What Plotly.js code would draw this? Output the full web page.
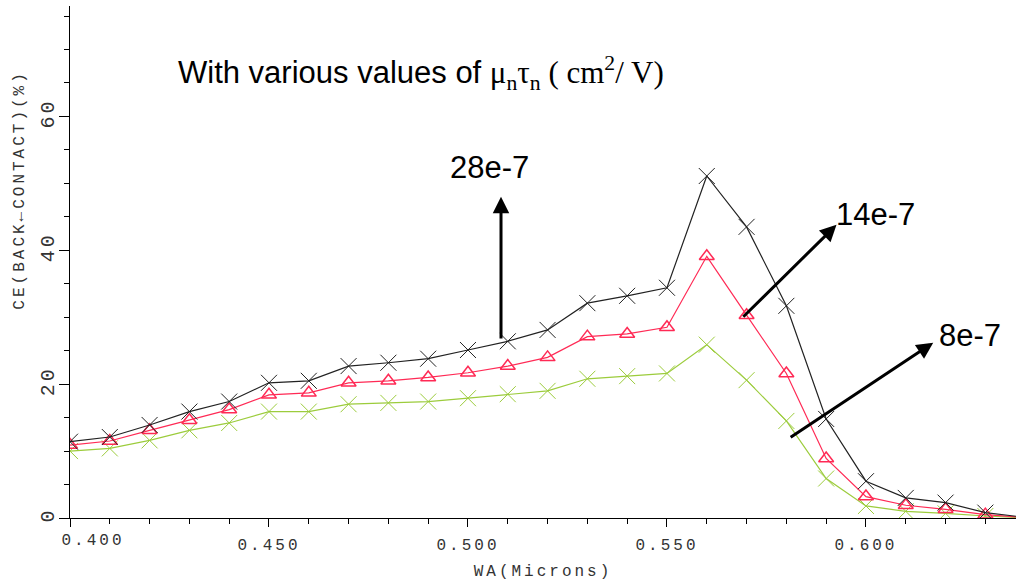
<!DOCTYPE html>
<html>
<head>
<meta charset="utf-8">
<script src="https://cdn.plot.ly/plotly-3.0.1.min.js"></script>
<style>
  html, body { margin: 0; padding: 0; background: #fff; }
  #chart { width: 1016px; height: 584px; }
  .xtick text, .ytick text, .g-xtitle text { letter-spacing: 3px; }
  .annotation[data-index="0"] text, .annotation[data-index="1"] text { letter-spacing: 3px; }
</style>
</head>
<body>
<div id="chart"></div>
<script>
// ---- data ----
const wa = [0.40, 0.41, 0.42, 0.43, 0.44, 0.45, 0.46, 0.47, 0.48, 0.49, 0.50, 0.51, 0.52,
            0.53, 0.54, 0.55, 0.56, 0.57, 0.58, 0.59, 0.60, 0.61, 0.62, 0.63, 0.64];
const ce28 = [11.4, 12.1, 13.9, 15.9, 17.4, 20.2, 20.5, 22.7, 23.2, 23.8, 25.1, 26.4, 28.1,
              32.1, 33.2, 34.4, 51.1, 43.5, 31.7, 14.8, 5.5, 3.0, 2.3, 0.8, 0.1];
const ce14 = [10.9, 11.5, 13.1, 14.6, 16.2, 18.4, 18.7, 20.2, 20.5, 21.0, 21.7, 22.7, 24.0,
              27.1, 27.5, 28.5, 39.1, 30.3, 21.6, 8.9, 3.2, 1.9, 1.3, 0.5, 0.05];
const ce8  = [10.0, 10.4, 11.6, 13.1, 14.2, 15.9, 15.9, 17.0, 17.2, 17.4, 17.9, 18.5, 19.0,
              20.8, 21.2, 21.6, 25.9, 20.6, 14.5, 5.9, 1.8, 1.0, 0.7, 0.3, 0.05];
const seriesLabels = ["28e-7", "14e-7", "8e-7"];
const xTickVals = [0.40, 0.45, 0.50, 0.55, 0.60];
const xTickText = ["0.400", "0.450", "0.500", "0.550", "0.600"];
const yTickVals = [0, 20, 40, 60];
const yTickText = ["0", "20", "40", "60"];
const xTitle = "WA(Microns)";
const yTitle = "CE(BACK←CONTACT)(%)";
const chartTitle = 'With various values of <span style="font-family:\'Liberation Serif\',\'Times New Roman\',serif">μ<sub>n</sub>τ<sub>n</sub> ( cm<sup>2</sup>/ V)</span>';

const monoFont = "'Liberation Mono', 'DejaVu Sans Mono', monospace";
const sansFont = "'Liberation Sans', Arial, sans-serif";

const traces = [
  { x: wa, y: ce8, name: seriesLabels[2], type: 'scatter', mode: 'lines+markers',
    line: { color: '#9ccc3c', width: 1.2 },
    marker: { symbol: 'x-thin-open', size: 16, line: { color: '#a8d050', width: 1 } } },
  { x: wa, y: ce14, name: seriesLabels[1], type: 'scatter', mode: 'lines+markers',
    line: { color: '#ff2a55', width: 1.2 },
    marker: { symbol: 'triangle-up-open', size: 13, color: '#ff2a55', line: { color: '#ff2a55', width: 1.5 } } },
  { x: wa, y: ce28, name: seriesLabels[0], type: 'scatter', mode: 'lines+markers',
    line: { color: '#222', width: 1.2 },
    marker: { symbol: 'x-thin-open', size: 16, line: { color: '#444', width: 1 } } }
];

const arrowCommon = { xref: 'x', yref: 'y', axref: 'x', ayref: 'y', text: '', showarrow: true,
  arrowhead: 2, arrowsize: 1.1, arrowwidth: 3, arrowcolor: '#000', standoff: 0, startstandoff: 0 };

const layout = {
  width: 1016, height: 584,
  margin: { l: 70, r: 0, t: 6, b: 66 },
  paper_bgcolor: '#fff', plot_bgcolor: '#fff',
  showlegend: false,
  xaxis: {
    range: [0.4, 0.6377], showgrid: false, zeroline: false,
    showline: true, linecolor: '#000', linewidth: 1,
    ticks: 'outside', ticklen: 8, tickcolor: '#000', tickwidth: 1,
    tickmode: 'array', tickvals: xTickVals, ticktext: ['', ...xTickText.slice(1)],
    ticklabelstandoff: 4,
    minor: { tickmode: 'linear', tick0: 0.4, dtick: 0.01, ticks: 'outside', ticklen: 5, tickcolor: '#000', showgrid: false },
    tickfont: { family: monoFont, size: 16, color: '#333' },
    title: { text: xTitle, font: { family: monoFont, size: 16, color: '#333' }, standoff: 10 }
  },
  yaxis: {
    range: [0, 76.5], showgrid: false, zeroline: false,
    showline: true, linecolor: '#000', linewidth: 1,
    ticks: 'outside', ticklen: 10, tickcolor: '#000', tickwidth: 1,
    tickmode: 'array', tickvals: yTickVals, ticktext: yTickText, tickangle: -90,
    ticklabelstandoff: -3,
    minor: { tickmode: 'linear', tick0: 0, dtick: 5, ticks: 'outside', ticklen: 5, tickcolor: '#000', showgrid: false },
    tickfont: { family: monoFont, size: 20, color: '#333' }
  },
  annotations: [
    { xref: 'paper', yref: 'paper', x: -0.052, y: 0.64, xanchor: 'center', yanchor: 'middle',
      text: yTitle, textangle: -90, showarrow: false,
      font: { family: monoFont, size: 16, color: '#333' } },
    { xref: 'x', yref: 'paper', x: xTickVals[0], y: -0.023, xanchor: 'left', yanchor: 'top',
      text: xTickText[0], showarrow: false, xshift: -3,
      font: { family: monoFont, size: 16, color: '#333' } },
    { xref: 'paper', yref: 'paper', x: 0.112, y: 0.869, xanchor: 'left', yanchor: 'middle',
      text: chartTitle, showarrow: false, font: { family: sansFont, size: 31, color: '#000' } },
    { xref: 'x', yref: 'y', x: 0.5055, y: 52.3, text: seriesLabels[0], showarrow: false,
      xanchor: 'center', yanchor: 'middle', font: { family: sansFont, size: 31, color: '#000' } },
    { xref: 'x', yref: 'y', x: 0.6023, y: 45.3, text: seriesLabels[1], showarrow: false,
      xanchor: 'center', yanchor: 'middle', font: { family: sansFont, size: 31, color: '#000' } },
    { xref: 'x', yref: 'y', x: 0.6261, y: 27.3, text: seriesLabels[2], showarrow: false,
      xanchor: 'center', yanchor: 'middle', font: { family: sansFont, size: 31, color: '#000' } },
    Object.assign({}, arrowCommon, { x: 0.5083, y: 48.0, ax: 0.5083, ay: 26.6 }),
    Object.assign({}, arrowCommon, { x: 0.5926, y: 43.8, ax: 0.5688, ay: 29.85 }),
    Object.assign({}, arrowCommon, { x: 0.6169, y: 26.2, ax: 0.5807, ay: 11.9 })
  ]
};

Plotly.newPlot('chart', traces, layout, { displayModeBar: false, staticPlot: true });
</script>
</body>
</html>
